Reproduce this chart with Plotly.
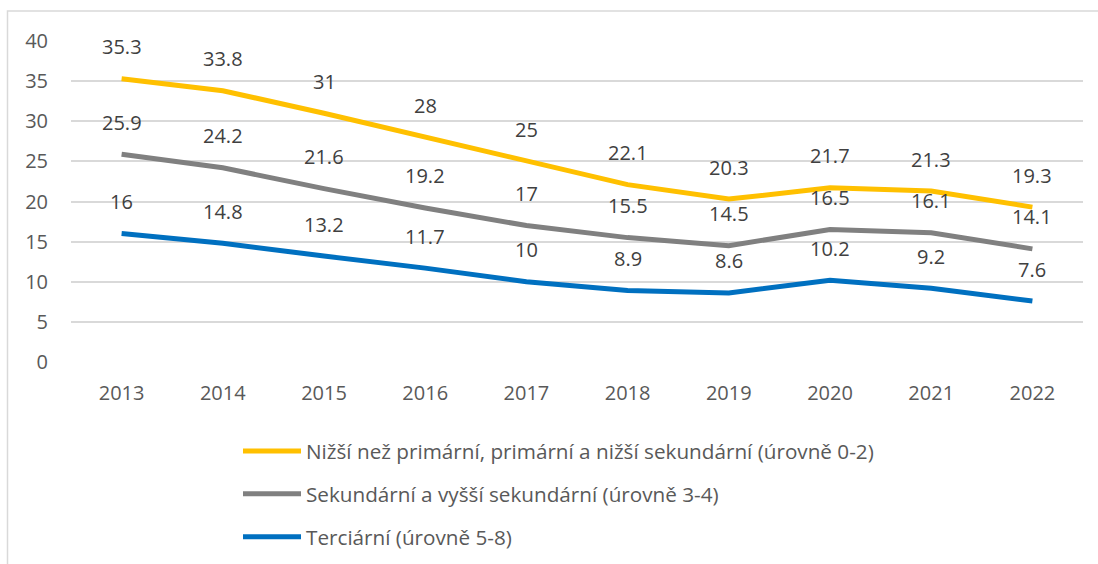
import plotly.graph_objects as go

years = ["2013", "2014", "2015", "2016", "2017", "2018", "2019", "2020", "2021", "2022"]
low = [35.3, 33.8, 31, 28, 25, 22.1, 20.3, 21.7, 21.3, 19.3]
mid = [25.9, 24.2, 21.6, 19.2, 17, 15.5, 14.5, 16.5, 16.1, 14.1]
high = [16, 14.8, 13.2, 11.7, 10, 8.9, 8.6, 10.2, 9.2, 7.6]
names = [
    "Nižší než primární, primární a nižší sekundární (úrovně 0-2)",
    "Sekundární a vyšší sekundární (úrovně 3-4)",
    "Terciární (úrovně 5-8)",
]
colors = ["#FFC000", "#808080", "#0070C0"]
series = [low, mid, high]
y_ticks = [0, 5, 10, 15, 20, 25, 30, 35, 40]

FONT = "Open Sans"
TXT = "#595959"

fig = go.Figure()
annotations = []
for i, (name, vals, col) in enumerate(zip(names, series, colors)):
    fig.add_trace(go.Scatter(
        x=years, y=vals, name=name, mode="lines",
        line=dict(color=col, width=5),
        legendgroup=f"g{i}",
        hoverinfo="x+y",
    ))
    for k, v in enumerate(vals):
        annotations.append(dict(
            x=k, y=v, xref="x", yref="y", text=f"{v:g}", showarrow=False,
            yshift=32, font=dict(family=FONT, size=20, color="#404040"),
        ))

fig.update_layout(
    width=1098, height=564,
    margin=dict(l=71, r=15, t=41, b=202, autoexpand=False),
    paper_bgcolor="white", plot_bgcolor="white",
    font=dict(family=FONT, size=20, color=TXT),
    annotations=annotations,
    showlegend=True,
    legend=dict(
        xref="container", yref="container",
        x=238 / 1098, y=1 - 431 / 564, xanchor="left", yanchor="top",
        orientation="v", traceorder="grouped", tracegroupgap=13,
        itemwidth=58,
        font=dict(family=FONT, size=20.7, color=TXT),
        bgcolor="rgba(0,0,0,0)",
    ),
    xaxis=dict(
        type="category", range=[-0.5, 9.5], showgrid=False, zeroline=False,
        showline=False, ticks="", tickfont=dict(family=FONT, size=20, color=TXT),
        ticklabelstandoff=17,
    ),
    yaxis=dict(
        range=[0, 40], tickvals=y_ticks, showgrid=True, gridcolor="#D9D9D9",
        gridwidth=1.5, zeroline=False, showline=False, ticks="",
        tickfont=dict(family=FONT, size=20, color=TXT),
        ticklabelstandoff=22,
    ),
    shapes=[dict(
        type="rect", xref="paper", yref="paper",
        x0=(7.5 - 71) / 1012, x1=1.05, y0=-0.7, y1=1 + 30 / 321,
        line=dict(color="#D9D9D9", width=1.5), fillcolor="rgba(0,0,0,0)",
        layer="below",
    )],
)

fig.write_html("out.html")
